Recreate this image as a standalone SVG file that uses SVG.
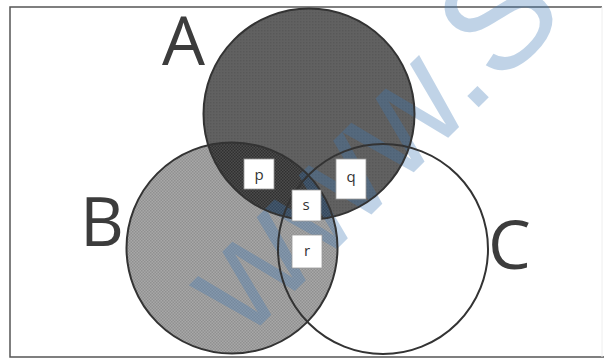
<svg xmlns="http://www.w3.org/2000/svg" width="604" height="360" viewBox="0 0 604 360">
<style>
.ring{fill:none;stroke:#333;stroke-width:2}
.big{font-family:"Open Sans","Liberation Sans",sans-serif;font-size:68px;fill:#3c3c3c}
.box{fill:#fff;stroke:#999;stroke-width:0.8}
.lbl{font-family:"Open Sans","Liberation Sans",sans-serif;font-size:15px;fill:#333;text-anchor:middle}
</style>
<defs>
<pattern id="patB" width="3" height="3" patternUnits="userSpaceOnUse">
<rect width="3" height="3" fill="#a8a8a8"/>
<rect width="1.5" height="1.5" fill="#909090"/>
<rect x="1.5" y="1.5" width="1.5" height="1.5" fill="#909090"/>
</pattern>
<pattern id="patA" width="3" height="3" patternUnits="userSpaceOnUse">
<rect width="3" height="3" fill="#616161"/>
<rect width="1.5" height="1.5" fill="#585858"/>
</pattern>
<pattern id="patAB" width="3" height="3" patternUnits="userSpaceOnUse">
<rect width="3" height="3" fill="#4c4c4c"/>
<rect width="1.5" height="1.5" fill="#303030"/>
<rect x="1.5" y="1.5" width="1.5" height="1.5" fill="#303030"/>
</pattern>
<clipPath id="clipA"><circle cx="309" cy="114" r="105.5"/></clipPath>
</defs>
<path d="M602 7 H10 V357 H604" fill="none" stroke="#555" stroke-width="1.5"/>
<line x1="602" y1="7" x2="602" y2="357" stroke="#eee" stroke-width="1"/>
<g id="fills">
<circle cx="232" cy="248" r="105.5" fill="url(#patB)"/>
<circle cx="309" cy="114" r="105.5" fill="url(#patA)"/>
<circle cx="232" cy="248" r="105.5" fill="url(#patAB)" clip-path="url(#clipA)"/>
</g>
<g id="watermark" opacity="0.32">
<text transform="translate(245,341) rotate(-45)" font-family="Liberation Sans, sans-serif" font-size="150" fill="#3d7ab8">www.S</text>
</g>
<g id="nodeA">
<circle class="ring" cx="309" cy="114" r="105.5"/>
<text class="big" x="162" y="65">A</text>
</g>
<g id="nodeB">
<circle class="ring" cx="232" cy="248" r="105.5"/>
<text class="big" x="80" y="246">B</text>
</g>
<g id="nodeC">
<circle class="ring" cx="383" cy="249" r="105"/>
<text class="big" x="488" y="269">C</text>
</g>
<g id="nodeP"><rect class="box" x="244" y="159" width="30" height="30"/><text class="lbl" x="259" y="180">p</text></g>
<g id="nodeQ"><rect class="box" x="336" y="159" width="30" height="40"/><text class="lbl" x="351" y="182">q</text></g>
<g id="nodeS"><rect class="box" x="292" y="190" width="29" height="31"/><text class="lbl" x="306" y="210">s</text></g>
<g id="nodeR"><rect class="box" x="292" y="235" width="30" height="33"/><text class="lbl" x="307" y="256">r</text></g>
<g id="connectors"></g>
</svg>
